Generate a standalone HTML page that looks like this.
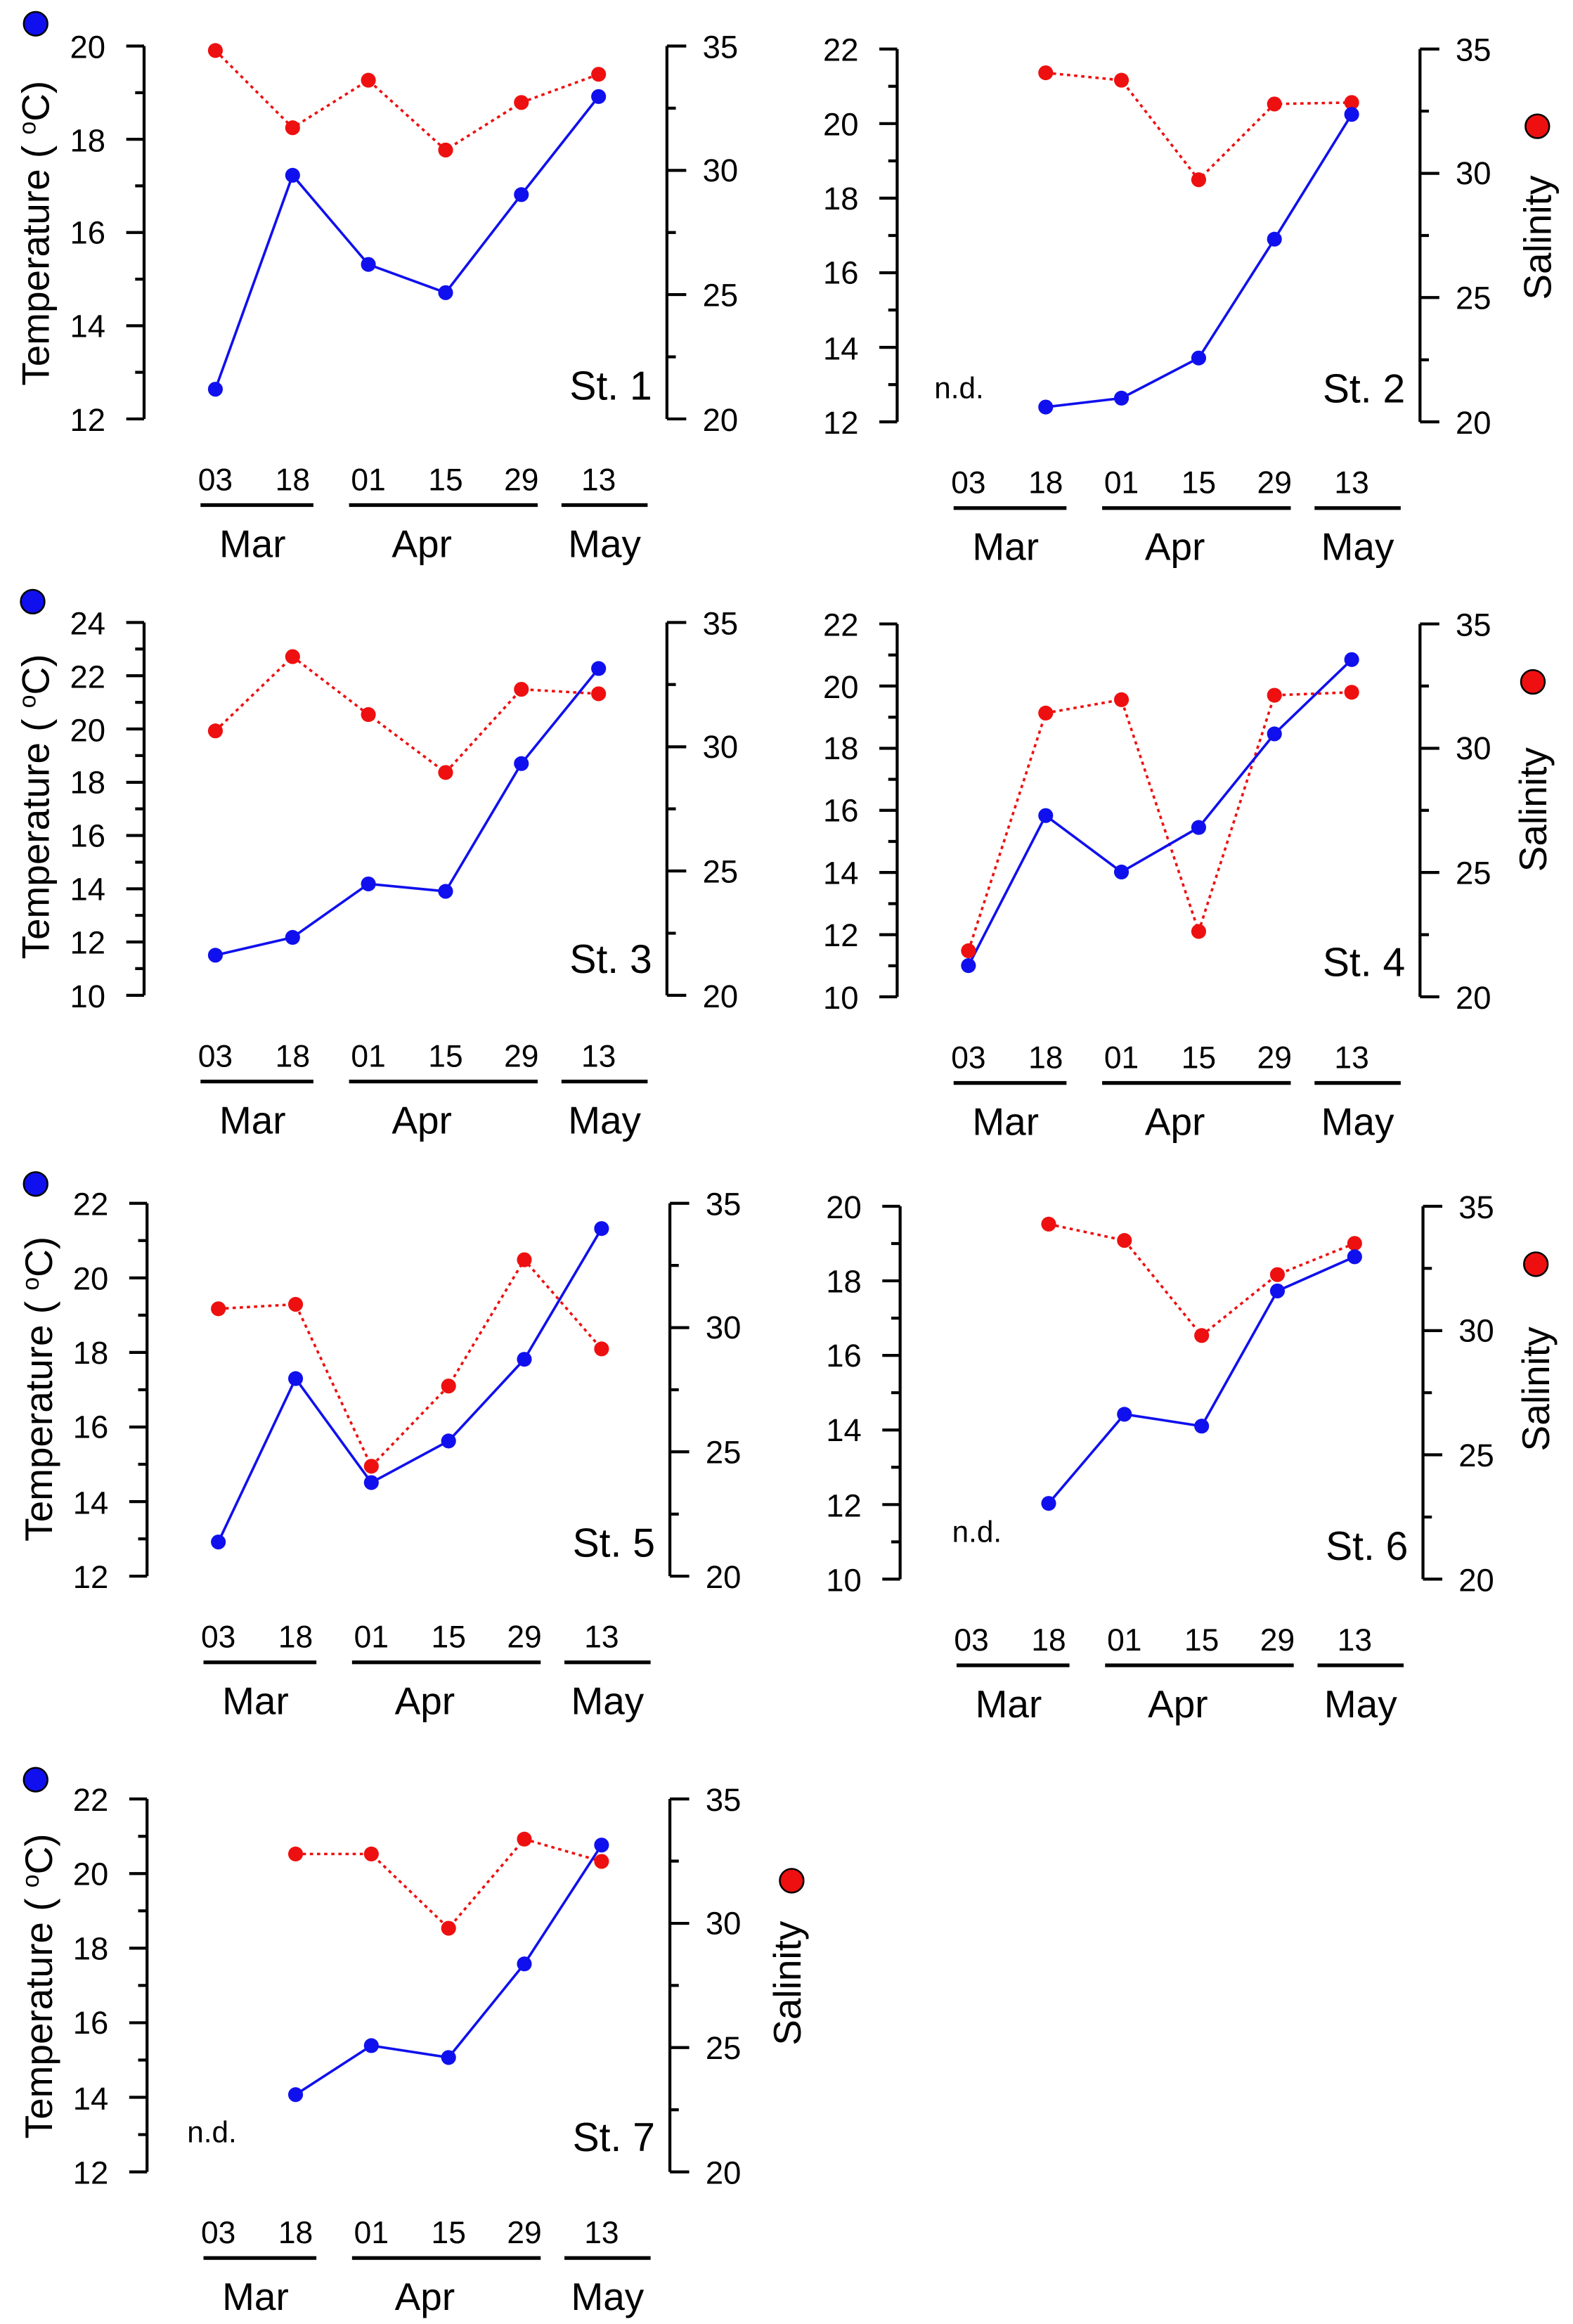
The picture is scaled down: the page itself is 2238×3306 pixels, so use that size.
<!DOCTYPE html>
<html><head><meta charset="utf-8"><style>
html,body{margin:0;padding:0;background:#fff}
svg{display:block}
text{font-family:"Liberation Sans",sans-serif;fill:#000}
.tl{font-size:21.5px;text-anchor:end}
.tr{font-size:21.5px;text-anchor:start}
.dt{font-size:21px;text-anchor:middle}
.mo{font-size:26px;text-anchor:middle}
.st{font-size:27px;text-anchor:end}
.ax{font-size:26px;text-anchor:middle}
.nd{font-size:20px}
.a{stroke:#000;stroke-width:2;fill:none}
.b{stroke:#1010ee;stroke-width:1.7;fill:none}
.r{stroke:#ee1010;stroke-width:1.7;fill:none;stroke-dasharray:2.2 2.6}
.bd{fill:#1010ee}
.rd{fill:#ee1010}
</style></head><body>
<svg width="2238" height="3306" viewBox="0 0 1059 1564.4" preserveAspectRatio="none" xmlns="http://www.w3.org/2000/svg">
<defs>
<g id="common">
<path class="a" d="M0,0V251M352,0V251"/>
<path class="a" d="M352,0h13M352,83.7h13M352,167.3h13M352,251h13M352,41.8h6M352,125.5h6M352,209.2h6"/>
<text class="tr" x="376" y="8">35</text><text class="tr" x="376" y="91">30</text><text class="tr" x="376" y="175">25</text><text class="tr" x="376" y="259">20</text>
<text class="dt" x="48" y="299">03</text><text class="dt" x="100" y="299">18</text><text class="dt" x="151" y="299">01</text><text class="dt" x="203" y="299">15</text><text class="dt" x="254" y="299">29</text><text class="dt" x="306" y="299">13</text>
<path d="M38,309H114M138,309H265M281,309H339" stroke="#000" stroke-width="2.5"/>
<text class="mo" x="73" y="344">Mar</text><text class="mo" x="187" y="344">Apr</text><text class="mo" x="310" y="344">May</text>
</g>
<g id="t5">
<path class="a" d="M0,0h-12M0,50.2h-12M0,100.4h-12M0,150.6h-12M0,200.8h-12M0,251h-12M0,25.1h-6M0,75.3h-6M0,125.5h-6M0,175.7h-6M0,225.9h-6"/>
</g>
</defs>

<!-- P1 -->
<g transform="translate(97,31)">
<use href="#common"/>
<path class="a" d="M0,0h-12M0,62.75h-12M0,125.5h-12M0,188.25h-12M0,251h-12M0,31.4h-6M0,94.1h-6M0,156.9h-6M0,219.6h-6"/>
<text class="tl" x="-26" y="8">20</text><text class="tl" x="-26" y="71">18</text><text class="tl" x="-26" y="133">16</text><text class="tl" x="-26" y="196">14</text><text class="tl" x="-26" y="259">12</text>
<polyline class="r" points="48,3 100,55 151,23 203,70 254,38 306,19"/>
<polyline class="b" points="48,231 100,87 151,147 203,166 254,100 306,34"/>
<g class="rd"><circle cx="48" cy="3" r="5"/><circle cx="100" cy="55" r="5"/><circle cx="151" cy="23" r="5"/><circle cx="203" cy="70" r="5"/><circle cx="254" cy="38" r="5"/><circle cx="306" cy="19" r="5"/></g>
<g class="bd"><circle cx="48" cy="231" r="5"/><circle cx="100" cy="87" r="5"/><circle cx="151" cy="147" r="5"/><circle cx="203" cy="166" r="5"/><circle cx="254" cy="100" r="5"/><circle cx="306" cy="34" r="5"/></g>
<text class="st" x="342" y="238">St. 1</text>
<text class="ax" transform="translate(-64,126) rotate(-90)">Temperature ( <tspan font-size="16" dy="-9">o</tspan><tspan dy="9">C)</tspan></text>
<circle cx="-73" cy="-15" r="8" class="bd" stroke="#000" stroke-width="1.2"/>
</g>

<!-- P2 -->
<g transform="translate(604,33)">
<use href="#common"/><use href="#t5"/>
<text class="tl" x="-26" y="8">22</text><text class="tl" x="-26" y="58">20</text><text class="tl" x="-26" y="108">18</text><text class="tl" x="-26" y="158">16</text><text class="tl" x="-26" y="209">14</text><text class="tl" x="-26" y="259">12</text>
<polyline class="r" points="100,16 151,21 203,88 254,37 306,36"/>
<polyline class="b" points="100,241 151,235 203,208 254,128 306,44"/>
<g class="rd"><circle cx="100" cy="16" r="5"/><circle cx="151" cy="21" r="5"/><circle cx="203" cy="88" r="5"/><circle cx="254" cy="37" r="5"/><circle cx="306" cy="36" r="5"/></g>
<g class="bd"><circle cx="100" cy="241" r="5"/><circle cx="151" cy="235" r="5"/><circle cx="203" cy="208" r="5"/><circle cx="254" cy="128" r="5"/><circle cx="306" cy="44" r="5"/></g>
<text class="nd" x="25" y="235">n.d.</text>
<text class="st" x="342" y="238">St. 2</text>
<text class="ax" transform="translate(440,127) rotate(-90)">Salinity</text>
<circle cx="431" cy="52" r="8" class="rd" stroke="#000" stroke-width="1.2"/>
</g>

<!-- P3 -->
<g transform="translate(97,419)">
<use href="#common"/>
<path class="a" d="M0,0h-12M0,35.86h-12M0,71.7h-12M0,107.6h-12M0,143.4h-12M0,179.3h-12M0,215.1h-12M0,251h-12M0,17.9h-6M0,53.8h-6M0,89.6h-6M0,125.5h-6M0,161.4h-6M0,197.2h-6M0,233h-6"/>
<text class="tl" x="-26" y="8">24</text><text class="tl" x="-26" y="44">22</text><text class="tl" x="-26" y="80">20</text><text class="tl" x="-26" y="115">18</text><text class="tl" x="-26" y="151">16</text><text class="tl" x="-26" y="187">14</text><text class="tl" x="-26" y="223">12</text><text class="tl" x="-26" y="259">10</text>
<polyline class="r" points="48,73 100,23 151,62 203,101 254,45 306,48"/>
<polyline class="b" points="48,224 100,212 151,176 203,181 254,95 306,31"/>
<g class="rd"><circle cx="48" cy="73" r="5"/><circle cx="100" cy="23" r="5"/><circle cx="151" cy="62" r="5"/><circle cx="203" cy="101" r="5"/><circle cx="254" cy="45" r="5"/><circle cx="306" cy="48" r="5"/></g>
<g class="bd"><circle cx="48" cy="224" r="5"/><circle cx="100" cy="212" r="5"/><circle cx="151" cy="176" r="5"/><circle cx="203" cy="181" r="5"/><circle cx="254" cy="95" r="5"/><circle cx="306" cy="31" r="5"/></g>
<text class="st" x="342" y="236">St. 3</text>
<text class="ax" transform="translate(-64,124) rotate(-90)">Temperature ( <tspan font-size="16" dy="-9">o</tspan><tspan dy="9">C)</tspan></text>
<circle cx="-75" cy="-14" r="8" class="bd" stroke="#000" stroke-width="1.2"/>
</g>

<!-- P4 -->
<g transform="translate(604,420)">
<use href="#common"/>
<path class="a" d="M0,0h-12M0,41.8h-12M0,83.7h-12M0,125.5h-12M0,167.3h-12M0,209.2h-12M0,251h-12M0,20.9h-6M0,62.8h-6M0,104.6h-6M0,146.4h-6M0,188.3h-6M0,230.1h-6"/>
<text class="tl" x="-26" y="8">22</text><text class="tl" x="-26" y="50">20</text><text class="tl" x="-26" y="91">18</text><text class="tl" x="-26" y="133">16</text><text class="tl" x="-26" y="175">14</text><text class="tl" x="-26" y="217">12</text><text class="tl" x="-26" y="259">10</text>
<polyline class="r" points="48,220 100,60 151,51 203,207 254,48 306,46"/>
<polyline class="b" points="48,230 100,129 151,167 203,137 254,74 306,24"/>
<g class="rd"><circle cx="48" cy="220" r="5"/><circle cx="100" cy="60" r="5"/><circle cx="151" cy="51" r="5"/><circle cx="203" cy="207" r="5"/><circle cx="254" cy="48" r="5"/><circle cx="306" cy="46" r="5"/></g>
<g class="bd"><circle cx="48" cy="230" r="5"/><circle cx="100" cy="129" r="5"/><circle cx="151" cy="167" r="5"/><circle cx="203" cy="137" r="5"/><circle cx="254" cy="74" r="5"/><circle cx="306" cy="24" r="5"/></g>
<text class="st" x="342" y="237">St. 4</text>
<text class="ax" transform="translate(437,125) rotate(-90)">Salinity</text>
<circle cx="428" cy="39" r="8" class="rd" stroke="#000" stroke-width="1.2"/>
</g>

<!-- P5 -->
<g transform="translate(99,810)">
<use href="#common"/><use href="#t5"/>
<text class="tl" x="-26" y="8">22</text><text class="tl" x="-26" y="58">20</text><text class="tl" x="-26" y="108">18</text><text class="tl" x="-26" y="158">16</text><text class="tl" x="-26" y="209">14</text><text class="tl" x="-26" y="259">12</text>
<polyline class="r" points="48,71 100,68 151,177 203,123 254,38 306,98"/>
<polyline class="b" points="48,228 100,118 151,188 203,160 254,105 306,17"/>
<g class="rd"><circle cx="48" cy="71" r="5"/><circle cx="100" cy="68" r="5"/><circle cx="151" cy="177" r="5"/><circle cx="203" cy="123" r="5"/><circle cx="254" cy="38" r="5"/><circle cx="306" cy="98" r="5"/></g>
<g class="bd"><circle cx="48" cy="228" r="5"/><circle cx="100" cy="118" r="5"/><circle cx="151" cy="188" r="5"/><circle cx="203" cy="160" r="5"/><circle cx="254" cy="105" r="5"/><circle cx="306" cy="17" r="5"/></g>
<text class="st" x="342" y="238">St. 5</text>
<text class="ax" transform="translate(-64,125) rotate(-90)">Temperature ( <tspan font-size="16" dy="-9">o</tspan><tspan dy="9">C)</tspan></text>
<circle cx="-75" cy="-13" r="8" class="bd" stroke="#000" stroke-width="1.2"/>
</g>

<!-- P6 -->
<g transform="translate(606,812)">
<use href="#common"/><use href="#t5"/>
<text class="tl" x="-26" y="8">20</text><text class="tl" x="-26" y="58">18</text><text class="tl" x="-26" y="108">16</text><text class="tl" x="-26" y="158">14</text><text class="tl" x="-26" y="209">12</text><text class="tl" x="-26" y="259">10</text>
<polyline class="r" points="100,12 151,23 203,87 254,46 306,25"/>
<polyline class="b" points="100,200 151,140 203,148 254,57 306,34"/>
<g class="rd"><circle cx="100" cy="12" r="5"/><circle cx="151" cy="23" r="5"/><circle cx="203" cy="87" r="5"/><circle cx="254" cy="46" r="5"/><circle cx="306" cy="25" r="5"/></g>
<g class="bd"><circle cx="100" cy="200" r="5"/><circle cx="151" cy="140" r="5"/><circle cx="203" cy="148" r="5"/><circle cx="254" cy="57" r="5"/><circle cx="306" cy="34" r="5"/></g>
<text class="nd" x="35" y="226">n.d.</text>
<text class="st" x="342" y="238">St. 6</text>
<text class="ax" transform="translate(437,123) rotate(-90)">Salinity</text>
<circle cx="428" cy="39" r="8" class="rd" stroke="#000" stroke-width="1.2"/>
</g>

<!-- P7 -->
<g transform="translate(99,1211)">
<use href="#common"/><use href="#t5"/>
<text class="tl" x="-26" y="8">22</text><text class="tl" x="-26" y="58">20</text><text class="tl" x="-26" y="108">18</text><text class="tl" x="-26" y="158">16</text><text class="tl" x="-26" y="209">14</text><text class="tl" x="-26" y="259">12</text>
<polyline class="r" points="100,37 151,37 203,87 254,27 306,42"/>
<polyline class="b" points="100,199 151,166 203,174 254,111 306,31"/>
<g class="rd"><circle cx="100" cy="37" r="5"/><circle cx="151" cy="37" r="5"/><circle cx="203" cy="87" r="5"/><circle cx="254" cy="27" r="5"/><circle cx="306" cy="42" r="5"/></g>
<g class="bd"><circle cx="100" cy="199" r="5"/><circle cx="151" cy="166" r="5"/><circle cx="203" cy="174" r="5"/><circle cx="254" cy="111" r="5"/><circle cx="306" cy="31" r="5"/></g>
<text class="nd" x="27" y="231">n.d.</text>
<text class="st" x="342" y="237">St. 7</text>
<text class="ax" transform="translate(-64,126) rotate(-90)">Temperature ( <tspan font-size="16" dy="-9">o</tspan><tspan dy="9">C)</tspan></text>
<circle cx="-75" cy="-13" r="8" class="bd" stroke="#000" stroke-width="1.2"/>
<text class="ax" transform="translate(440,124) rotate(-90)">Salinity</text>
<circle cx="434" cy="55" r="8" class="rd" stroke="#000" stroke-width="1.2"/>
</g>
</svg>
</body></html>
